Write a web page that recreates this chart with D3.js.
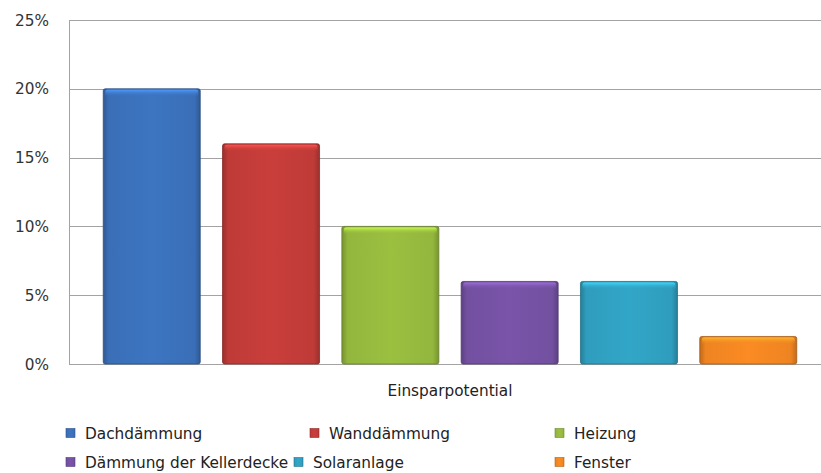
<!DOCTYPE html>
<html><head><meta charset="utf-8">
<script src="https://cdn.jsdelivr.net/npm/d3@7"></script>
<style>body{margin:0;background:#fff}svg{display:block}</style>
</head><body><svg id="c" width="821" height="473"></svg>
<script>
const seriesNames = ["Dachdämmung","Wanddämmung","Heizung","Dämmung der Kellerdecke","Solaranlage","Fenster"];
const seriesValues = [0.20,0.16,0.10,0.06,0.06,0.02];
const seriesColors = ["#3a6fb7","#bf3b38","#93b63d","#7350a0","#2f9dbd","#ee8421"];
const yTicks = [0,0.05,0.10,0.15,0.20,0.25];
const categoryLabel = "Einsparpotential";

const svg = d3.select("#c");
const font = "'DejaVu Sans', sans-serif";
const fs = 15.3;
const x0 = 69, x1 = 831, yTop = 20, yBot = 364;
const y = d3.scaleLinear().domain([0,0.25]).range([yBot,yTop]);
const x = d3.scaleBand().domain(seriesNames).range([x0,x1]).paddingInner(0.187).paddingOuter(0.287);

const defs = svg.append("defs");
seriesColors.forEach((c,i)=>{
  const g = defs.append("linearGradient").attr("id","g"+i).attr("x1",0).attr("x2",1).attr("y1",0).attr("y2",0);
  const dk = d3.color(c).darker(0.6), lt = d3.color(c).brighter(0.15);
  g.append("stop").attr("offset",0).attr("stop-color",dk);
  g.append("stop").attr("offset",0.06).attr("stop-color",c);
  g.append("stop").attr("offset",0.5).attr("stop-color",lt);
  g.append("stop").attr("offset",0.94).attr("stop-color",c);
  g.append("stop").attr("offset",1).attr("stop-color",dk);
  const t = defs.append("linearGradient").attr("id","t"+i).attr("x1",0).attr("x2",0).attr("y1",0).attr("y2",1);
  t.append("stop").attr("offset",0).attr("stop-color",d3.color(c).brighter(0.9));
  t.append("stop").attr("offset",1).attr("stop-color",c).attr("stop-opacity",0);
});

// gridlines
svg.append("g").selectAll("line").data(yTicks).join("line")
  .attr("x1",x0).attr("x2",821).attr("y1",d=>Math.round(y(d))+0.5).attr("y2",d=>Math.round(y(d))+0.5)
  .attr("stroke","#a3a3a3").attr("stroke-width",1);
// left axis
svg.append("line").attr("x1",x0+0.5).attr("x2",x0+0.5).attr("y1",yTop).attr("y2",yBot+0.5).attr("stroke","#a3a3a3");

// tick labels
svg.append("g").selectAll("text").data(yTicks).join("text")
  .attr("x",49).attr("y",d=>y(d)).attr("dy","0.36em").attr("text-anchor","end")
  .attr("font-family",font).attr("font-size",fs).attr("fill","#333")
  .text(d=>d3.format(".0%")(d));

// bars
const bars = svg.append("g").selectAll("g").data(seriesNames).join("g");
bars.append("rect").attr("x",d=>x(d)).attr("width",x.bandwidth())
  .attr("y",(d,i)=>y(seriesValues[i])).attr("height",(d,i)=>yBot-y(seriesValues[i]))
  .attr("fill",(d,i)=>`url(#g${i})`).attr("stroke",(d,i)=>d3.color(seriesColors[i]).darker(1)).attr("stroke-width",0.8).attr("rx",2);
bars.append("rect").attr("x",d=>x(d)+2).attr("width",x.bandwidth()-4)
  .attr("y",(d,i)=>y(seriesValues[i])+1).attr("height",7)
  .attr("fill",(d,i)=>`url(#t${i})`).attr("rx",2);

// category label
svg.append("text").attr("x",(x(seriesNames[0])+x(seriesNames[5])+x.bandwidth())/2).attr("y",390).attr("dy","0.36em")
  .attr("text-anchor","middle").attr("font-family",font).attr("font-size",fs).attr("fill","#222").text(categoryLabel);

// legend
const legPos = [[66,433],[310,433],[555,433],[66,462],[294,462],[555,462]];
const leg = svg.append("g").selectAll("g").data(seriesNames).join("g")
  .attr("transform",(d,i)=>`translate(${legPos[i][0]},${legPos[i][1]})`);
leg.append("rect").attr("x",0).attr("y",-4.5).attr("width",9).attr("height",9)
  .attr("fill",(d,i)=>`url(#g${i})`).attr("stroke",(d,i)=>d3.color(seriesColors[i]).darker(0.8)).attr("stroke-width",0.6);
leg.append("text").attr("x",19).attr("y",0).attr("dy","0.36em")
  .attr("font-family",font).attr("font-size",fs).attr("fill","#222").text(d=>d);
</script></body></html>
